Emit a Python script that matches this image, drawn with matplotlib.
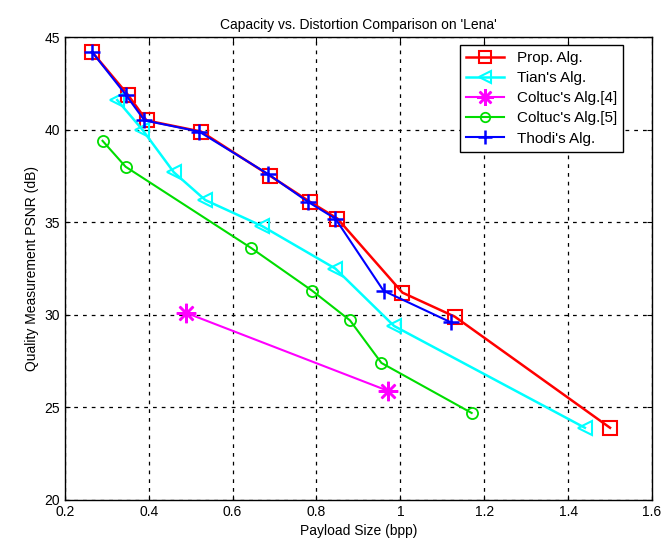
import matplotlib
matplotlib.use("Agg")
import matplotlib.pyplot as plt

plt.rcParams['font.family'] = ['Liberation Sans', 'DejaVu Sans']

prop_x = [0.265, 0.35, 0.395, 0.525, 0.69, 0.785, 0.85, 1.005, 1.13, 1.5]
prop_y = [44.2, 41.9, 40.5, 39.9, 37.5, 36.1, 35.2, 31.2, 29.9, 23.9]

tian_x = [0.325, 0.385, 0.46, 0.535, 0.67, 0.845, 0.985, 1.44]
tian_y = [41.6, 40.0, 37.7, 36.2, 34.8, 32.5, 29.4, 23.9]

coltuc4_x = [0.49, 0.97]
coltuc4_y = [30.1, 25.9]

coltuc5_x = [0.29, 0.345, 0.645, 0.79, 0.88, 0.955, 1.17]
coltuc5_y = [39.4, 38.0, 33.6, 31.3, 29.7, 27.4, 24.7]

thodi_x = [0.265, 0.345, 0.39, 0.52, 0.685, 0.78, 0.845, 0.96, 1.12]
thodi_y = [44.2, 41.9, 40.5, 39.9, 37.6, 36.1, 35.2, 31.3, 29.6]

fig = plt.figure(figsize=(6.68, 5.51), dpi=100)
ax = fig.add_axes([0.097, 0.0926, 0.879, 0.84])

ax.plot(prop_x, prop_y, color='red', lw=1.8, marker='s', ms=10, mfc='none', mew=1.5, label='Prop. Alg.')
ax.plot(tian_x, tian_y, color='cyan', lw=1.8, marker='<', ms=10, mfc='none', mew=1.5, label="Tian's Alg.")
ax.plot(coltuc4_x, coltuc4_y, color='magenta', lw=1.5, marker=(8, 2, 0), ms=14, mew=1.8, label="Coltuc's Alg.[4]")
ax.plot(coltuc5_x, coltuc5_y, color='#00dd00', lw=1.5, marker='o', ms=8, mfc='none', mew=1.3, label="Coltuc's Alg.[5]")
ax.plot(thodi_x, thodi_y, color='blue', lw=1.5, marker='+', ms=12, mew=1.8, label="Thodi's Alg.")

ax.set_xlim(0.2, 1.6)
ax.set_ylim(20, 45)
ax.set_xticks([0.2, 0.4, 0.6, 0.8, 1.0, 1.2, 1.4, 1.6])
ax.set_xticklabels(['0.2', '0.4', '0.6', '0.8', '1', '1.2', '1.4', '1.6'])
ax.set_yticks([20, 25, 30, 35, 40, 45])
ax.grid(True, color='black', linestyle=(0, (3, 4)), lw=0.9)
ax.tick_params(direction='in', top=True, right=True, labelsize=10)
for s in ax.spines.values():
    s.set_linewidth(1.0)

ax.set_xlabel('Payload Size (bpp)', fontsize=10)
ax.set_ylabel('Quality Measurement PSNR (dB)', fontsize=10)
ax.set_title("Capacity vs. Distortion Comparison on 'Lena'", fontsize=10)

leg = ax.legend(loc='upper right', bbox_to_anchor=(0.9506, 0.983), borderaxespad=0,
                fontsize=11, fancybox=False, edgecolor='black', framealpha=1,
                handlelength=2.5, labelspacing=0.4, markerscale=0.85)
leg.get_frame().set_linewidth(1.0)

fig.savefig('out.png', dpi=100)
